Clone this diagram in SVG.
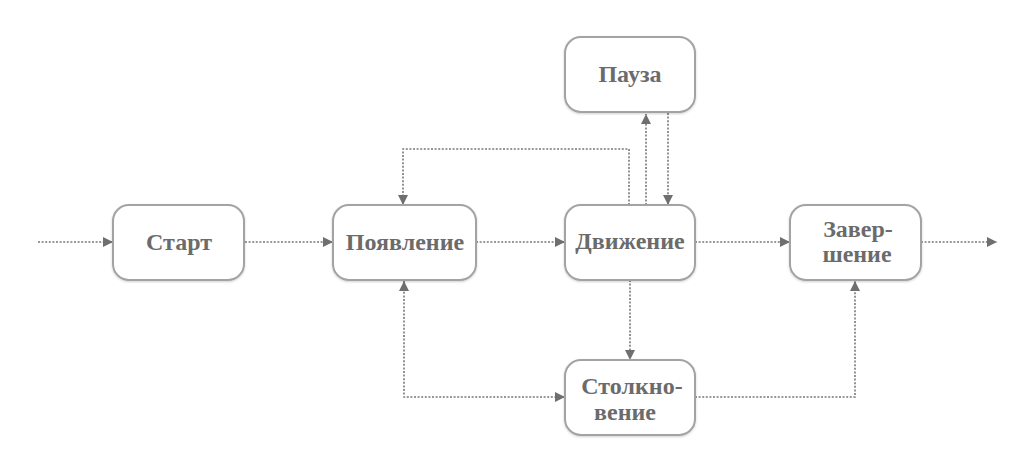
<svg xmlns="http://www.w3.org/2000/svg" width="1033" height="474" viewBox="0 0 1033 474">
<defs>
<marker id="ah" viewBox="0 0 10 10" refX="10" refY="5" markerWidth="10" markerHeight="10" markerUnits="userSpaceOnUse" orient="auto-start-reverse">
<path d="M0,0 L10,5 L0,10 Z" fill="#6f6f6f"/>
</marker>
<filter id="sh" x="-10%" y="-10%" width="120%" height="130%">
<feDropShadow dx="0" dy="1" stdDeviation="1" flood-color="#000" flood-opacity="0.18"/>
</filter>
</defs>
<style>
.box{fill:#fff;stroke:#a3a3a3;stroke-width:2;filter:url(#sh)}
.lbl{font-family:'Liberation Serif','DejaVu Serif',serif;font-weight:700;font-size:24px;fill:#6b6b6b;text-anchor:middle}
.c{fill:none;stroke:#787878;stroke-width:1.6;stroke-dasharray:2 1.6}
.a{marker-end:url(#ah)}
.b{marker-start:url(#ah);marker-end:url(#ah)}
</style>
<rect width="1033" height="474" fill="#fff"/>
<g id="connectors">
<path class="c a" d="M38,242 H113"/>
<path class="c a" d="M245,242 H333"/>
<path class="c a" d="M476,242 H565"/>
<path class="c a" d="M695,242 H790"/>
<path class="c a" d="M921,242 H997"/>
<path class="c a" d="M646,205 V114"/>
<path class="c a" d="M668,113 V205"/>
<path class="c a" d="M629,205 V149 H403 V205"/>
<path class="c a" d="M630,280 V360"/>
<path class="c b" d="M404,281 V397 H565"/>
<path class="c a" d="M695,397 H855 V281"/>
</g>
<g id="start">
<rect class="box" x="113" y="205" width="131" height="75" rx="16"/>
<text class="lbl" x="179" y="250">Старт</text>
</g>
<g id="appear">
<rect class="box" x="333" y="205" width="143" height="75" rx="16"/>
<text class="lbl" x="405" y="250">Появление</text>
</g>
<g id="move">
<rect class="box" x="565" y="205" width="130" height="75" rx="16"/>
<text class="lbl" x="630" y="249">Движение</text>
</g>
<g id="pause">
<rect class="box" x="565" y="37" width="130" height="75" rx="16"/>
<text class="lbl" x="630" y="82">Пауза</text>
</g>
<g id="finish">
<rect class="box" x="790" y="205" width="131" height="75" rx="16"/>
<text class="lbl" x="858" y="237">Завер-</text>
<text class="lbl" x="857" y="262">шение</text>
</g>
<g id="collision">
<rect class="box" x="565" y="360" width="130" height="75" rx="16"/>
<text class="lbl" x="632" y="394">Столкно-</text>
<text class="lbl" x="625" y="420">вение</text>
</g>
</svg>
